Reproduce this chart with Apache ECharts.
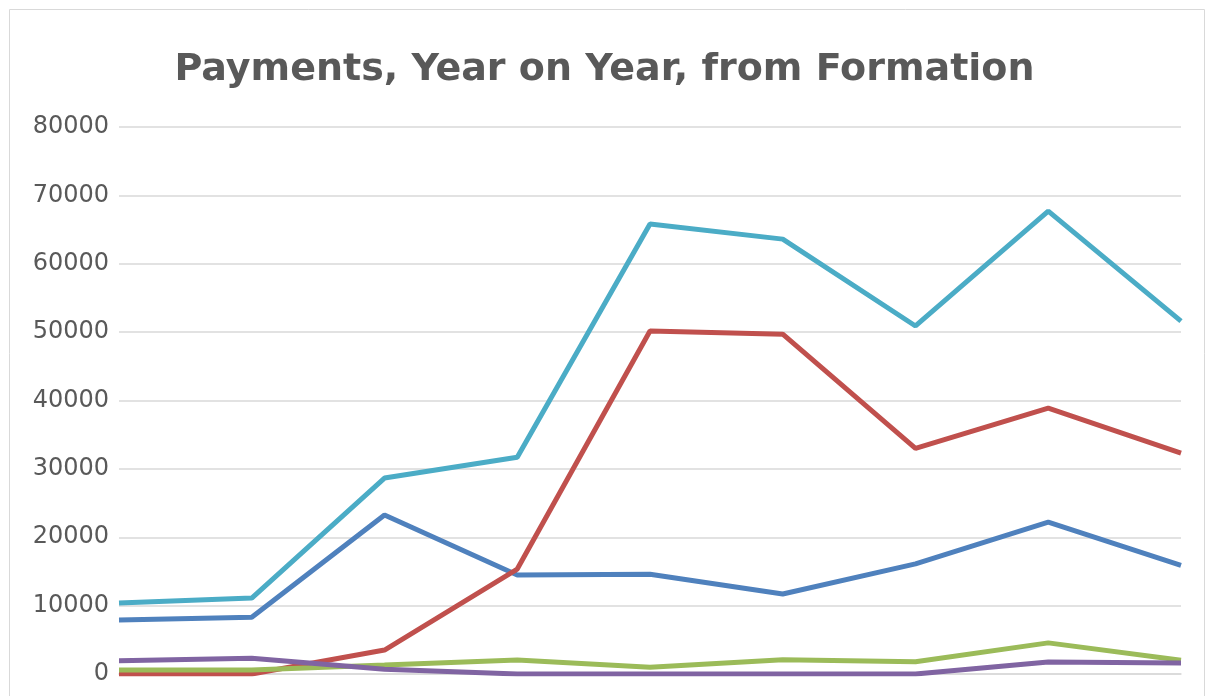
<!DOCTYPE html>
<html>
<head>
<meta charset="utf-8">
<script src="https://cdn.jsdelivr.net/npm/echarts@6/dist/echarts.min.js"></script>
<style>
  html, body { margin: 0; padding: 0; background: #fff; }
  #main { width: 1209px; height: 696px; }
</style>
</head>
<body>
<div id="main"></div>
<script>
// year index from formation (axis labels are cut off in the reference)
var categories = ['1', '2', '3', '4', '5', '6', '7', '8', '9'];
var yTicks = [0, 10000, 20000, 30000, 40000, 50000, 60000, 70000, 80000];

var series1 = [7900, 8300, 23250, 14480, 14600, 11700, 16100, 22200, 15900];
var series2 = [0, 0, 3500, 15350, 50160, 49700, 33000, 38900, 32300];
var series3 = [600, 600, 1300, 2050, 1000, 2100, 1800, 4550, 2000];
var series4 = [1950, 2300, 700, 0, 0, 0, 0, 1750, 1600];
var series5 = [10400, 11100, 28660, 31700, 65800, 63600, 50900, 67700, 51600];

var colors = ['#4F81BD', '#C0504D', '#9BBB59', '#8064A2', '#4BACC6'];

function line(name, data, color) {
    return {
        name: name,
        type: 'line',
        data: data,
        symbol: 'none',
        lineStyle: { color: color, width: 5 },
        itemStyle: { color: color }
    };
}

var myChart = echarts.init(document.getElementById('main'));
myChart.setOption({
    animation: false,
    title: {
        text: 'Payments, Year on Year, from Formation',
        left: 'center',
        top: 46,
        textStyle: {
            color: '#595959',
            fontFamily: 'DejaVu Sans',
            fontWeight: 'bold',
            fontSize: 38
        }
    },
    graphic: [{
        type: 'rect',
        shape: { x: 9.5, y: 9.5, width: 1195, height: 720 },
        style: { fill: 'none', stroke: '#d9d9d9', lineWidth: 1 },
        silent: true
    }],
    grid: { left: 119, right: 28, top: 127, bottom: 22 },
    xAxis: {
        type: 'category',
        data: categories,
        boundaryGap: false,
        axisLine: { show: true, lineStyle: { color: '#d9d9d9', width: 1.5 } },
        axisTick: { show: false },
        axisLabel: { show: false }
    },
    yAxis: {
        type: 'value',
        min: yTicks[0],
        max: yTicks[yTicks.length - 1],
        interval: 10000,
        axisLine: { show: false },
        axisTick: { show: false },
        axisLabel: {
            color: '#595959',
            fontFamily: 'DejaVu Sans',
            fontSize: 24,
            margin: 10,
            formatter: function (v) { return String(v); }
        },
        splitLine: { lineStyle: { color: '#d9d9d9', width: 1.5 } }
    },
    series: [
        line('Series 1', series1, colors[0]),
        line('Series 2', series2, colors[1]),
        line('Series 3', series3, colors[2]),
        line('Series 4', series4, colors[3]),
        line('Series 5', series5, colors[4])
    ]
});
</script>
</body>
</html>
